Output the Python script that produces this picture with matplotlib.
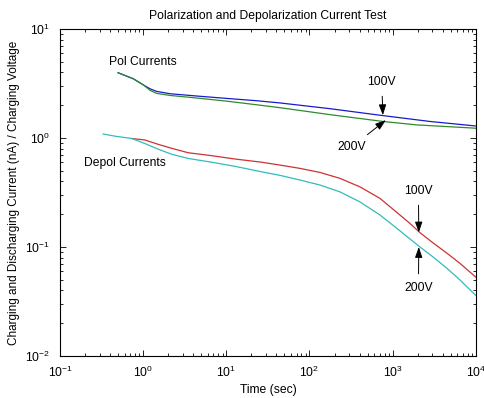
import numpy as np
import matplotlib
matplotlib.use("Agg")
import matplotlib.pyplot as plt

# ----------------------------------------------------------
# Data (time in s, current / voltage)
# ----------------------------------------------------------
pol_100_t = [0.50, 0.76, 1.0, 1.21, 1.45, 2.10, 4.40, 10.1, 23.1, 44, 176, 702, 2800, 10000]
pol_100_v = [3.97, 3.50, 3.08, 2.83, 2.68, 2.55, 2.43, 2.31, 2.20, 2.10, 1.86, 1.62, 1.42, 1.29]

pol_200_t = [0.50, 0.76, 1.0, 1.21, 1.45, 2.10, 4.40, 10.1, 23.1, 44, 176, 763, 1954, 8470, 10000]
pol_200_v = [3.97, 3.50, 3.08, 2.74, 2.57, 2.46, 2.33, 2.18, 2.02, 1.90, 1.64, 1.42, 1.32, 1.24, 1.23]

depol_100_t = [0.73, 1.05, 1.52, 2.20, 3.48, 6.66, 12.7, 26.6, 44, 76.7, 133, 232, 403, 702,
               1221, 1610, 2120, 3069, 4480, 6425, 10000]
depol_100_v = [0.99, 0.96, 0.875, 0.805, 0.733, 0.689, 0.642, 0.60, 0.565, 0.527, 0.484, 0.427,
               0.357, 0.280, 0.197, 0.165, 0.136, 0.109, 0.088, 0.071, 0.053]

depol_200_t = [0.33, 0.458, 0.73, 1.05, 1.52, 2.20, 3.48, 6.66, 12.7, 26.6, 44, 76.7, 133, 232,
               403, 702, 1005, 1221, 2000, 3069, 4480, 6425, 10000]
depol_200_v = [1.09, 1.04, 0.99, 0.89, 0.79, 0.71, 0.65, 0.60, 0.55, 0.49, 0.455, 0.412, 0.371,
               0.321, 0.260, 0.197, 0.159, 0.141, 0.104, 0.081, 0.064, 0.050, 0.036]

# annotation points: (label, arrow tip, text position)
notes = [
    ("100V", (763, 1.62), (740, 3.27)),
    ("200V", (828, 1.46), (324, 0.83)),
    ("100V", (2065, 0.136), (2040, 0.327)),
    ("200V", (2065, 0.100), (2040, 0.042)),
]

plt.rcParams['font.family'] = ['Liberation Sans', 'DejaVu Sans']
plt.rcParams['mathtext.default'] = 'regular'
plt.rcParams['font.size'] = 8.7

fig = plt.figure(figsize=(4.84, 3.98), dpi=100)
ax = fig.add_axes([0.124, 0.1055, 0.859, 0.8215])

ax.loglog(pol_100_t, pol_100_v, color='#1a1acc', lw=0.9)
ax.loglog(pol_200_t, pol_200_v, color='#2e8b2e', lw=0.9)
ax.loglog(depol_100_t, depol_100_v, color='#cc3333', lw=0.9)
ax.loglog(depol_200_t, depol_200_v, color='#33bbbb', lw=0.9)

ax.set_xlim(0.1, 1e4)
ax.set_ylim(0.01, 10)

ax.tick_params(which='both', direction='in', top=True, right=True, colors='black',
               labelsize=8.7)
ax.tick_params(which='major', length=4, width=0.6)
ax.tick_params(which='minor', length=2, width=0.6)
ax.tick_params(axis='x', which='major', pad=6)
ax.tick_params(axis='y', which='major', pad=7)
for s in ax.spines.values():
    s.set_linewidth(0.8)

ax.set_title("Polarization and Depolarization Current Test", fontsize=8.7, pad=7)
ax.set_xlabel("Time (sec)", fontsize=8.7, labelpad=3)
ax.set_ylabel("Charging and Discharging Current (nA) / Charging Voltage", fontsize=8.5)

ax.text(0.388, 4.95, "Pol Currents", va='center', ha='left')
ax.text(0.194, 0.59, "Depol Currents", va='center', ha='left')

for label, tip, pos in notes:
    ax.annotate(label, xy=tip, xytext=pos, ha='center', va='center',
                arrowprops=dict(arrowstyle='-|>,head_length=0.8,head_width=0.28',
                                color='black', lw=0.7,
                                mutation_scale=8, shrinkA=4, shrinkB=0))

fig.savefig("out.png", dpi=100)
